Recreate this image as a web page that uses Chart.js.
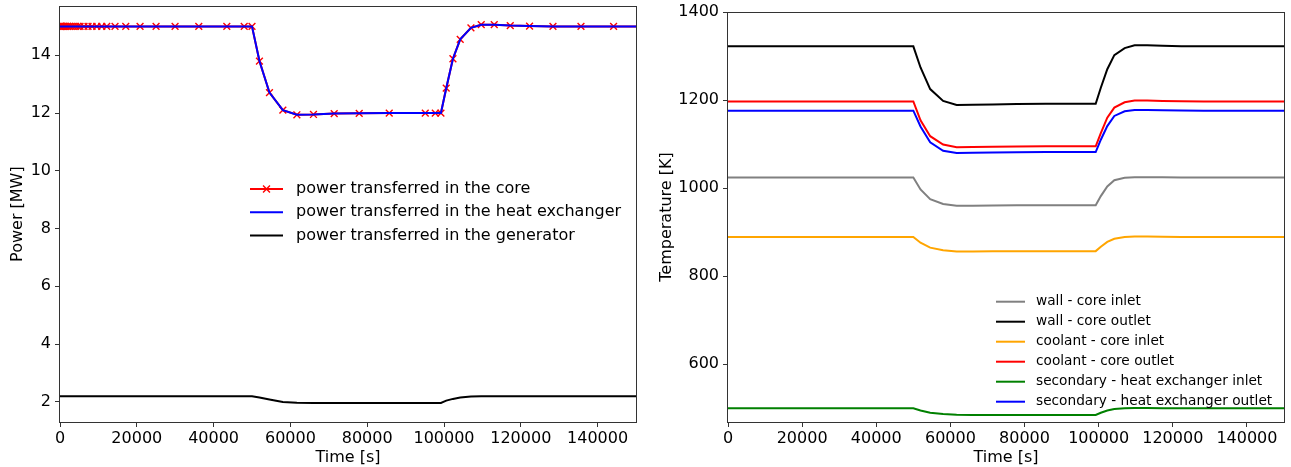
<!DOCTYPE html>
<html>
<head>
<meta charset="utf-8">
<script src="https://cdn.jsdelivr.net/npm/chart.js@4.4.0/dist/chart.umd.min.js"></script>
<style>
  body { margin: 0; background: #fff; }
  #wrap { position: relative; width: 1291px; height: 467px; }
  canvas { position: absolute; top: 0; }
</style>
</head>
<body>
<div id="wrap">
  <canvas id="powerChart" width="645" height="467" style="left:0px"></canvas>
  <canvas id="tempChart" width="646" height="467" style="left:645px"></canvas>
</div>
<script>
// time steps of the solver [s]
const time = [0, 60, 150, 280, 450, 650, 900, 1200, 1550, 1950, 2400, 2900, 3450, 4050, 4650,
  5212, 6254, 7297, 8339, 9564, 10867, 12170, 14333, 17124, 20848, 25018, 29969, 36142, 43440, 47970,
  50000, 51938, 54546, 58036, 61685, 66010, 71404, 77919, 85737, 95119, 97725, 99200,
  100580, 102325, 104224, 107013, 109696, 113083, 117252, 122283, 128376, 135672, 144168, 152000];

// power [MW]
const corePower = [15, 15, 15, 15, 15, 15, 15, 15, 15, 15, 15, 15, 15, 15, 15,
  15, 15, 15, 15, 15, 15, 15, 15, 15, 15, 15, 15, 15, 15, 15,
  15, 13.80, 12.71, 12.10, 11.94, 11.95, 11.98, 11.99, 12.0, 12.0, 12.0, 12.0,
  12.86, 13.88, 14.55, 14.95, 15.06, 15.06, 15.03, 15.01, 15.0, 15.0, 15.0, 15.0];
const hxPower = [15, 15, 15, 15, 15, 15, 15, 15, 15, 15, 15, 15, 15, 15, 15,
  15, 15, 15, 15, 15, 15, 15, 15, 15, 15, 15, 15, 15, 15, 15,
  15, 13.80, 12.71, 12.10, 11.94, 11.95, 11.98, 11.99, 12.0, 12.0, 12.0, 12.0,
  12.86, 13.88, 14.55, 14.95, 15.06, 15.06, 15.03, 15.01, 15.0, 15.0, 15.0, 15.0];
const genPower = [2.19, 2.19, 2.19, 2.19, 2.19, 2.19, 2.19, 2.19, 2.19, 2.19, 2.19, 2.19, 2.19, 2.19, 2.19,
  2.19, 2.19, 2.19, 2.19, 2.19, 2.19, 2.19, 2.19, 2.19, 2.19, 2.19, 2.19, 2.19, 2.19, 2.19,
  2.19, 2.15, 2.08, 1.99, 1.965, 1.96, 1.96, 1.96, 1.96, 1.96, 1.96, 1.96,
  2.04, 2.10, 2.15, 2.18, 2.19, 2.195, 2.195, 2.19, 2.19, 2.19, 2.19, 2.19];

// temperatures [K]
const wallIn = [1024, 1024, 1024, 1024, 1024, 1024, 1024, 1024, 1024, 1024, 1024, 1024, 1024, 1024, 1024,
  1024, 1024, 1024, 1024, 1024, 1024, 1024, 1024, 1024, 1024, 1024, 1024, 1024, 1024, 1024,
  1024, 997, 975, 964, 960, 960, 960.5, 961, 961, 961, 961, 961,
  982, 1004, 1018, 1023.5, 1025, 1025, 1024.5, 1024, 1024, 1024, 1024, 1024];
const wallOut = [1322, 1322, 1322, 1322, 1322, 1322, 1322, 1322, 1322, 1322, 1322, 1322, 1322, 1322, 1322,
  1322, 1322, 1322, 1322, 1322, 1322, 1322, 1322, 1322, 1322, 1322, 1322, 1322, 1322, 1322,
  1322, 1274, 1225, 1198, 1189, 1189.5, 1190, 1191, 1191.5, 1191.5, 1191.5, 1191.5,
  1228, 1270, 1302, 1318, 1324.5, 1324.5, 1323.5, 1322.5, 1322, 1322, 1322, 1322];
const coolIn = [889, 889, 889, 889, 889, 889, 889, 889, 889, 889, 889, 889, 889, 889, 889,
  889, 889, 889, 889, 889, 889, 889, 889, 889, 889, 889, 889, 889, 889, 889,
  889, 876, 865, 859, 856, 856, 856.5, 857, 857, 857, 857, 857,
  867, 878, 885, 889, 890, 890, 889.5, 889, 889, 889, 889, 889];
const coolOut = [1197, 1197, 1197, 1197, 1197, 1197, 1197, 1197, 1197, 1197, 1197, 1197, 1197, 1197, 1197,
  1197, 1197, 1197, 1197, 1197, 1197, 1197, 1197, 1197, 1197, 1197, 1197, 1197, 1197, 1197,
  1197, 1154, 1118, 1099, 1093, 1093.5, 1094, 1094.5, 1095, 1095, 1095, 1095,
  1125, 1160, 1183, 1195, 1199, 1199, 1198, 1197.5, 1197, 1197, 1197, 1197];
const secIn = [500, 500, 500, 500, 500, 500, 500, 500, 500, 500, 500, 500, 500, 500, 500,
  500, 500, 500, 500, 500, 500, 500, 500, 500, 500, 500, 500, 500, 500, 500,
  500, 495, 490, 487, 485.5, 485, 485, 485, 485, 485, 485, 485,
  490, 495, 498.5, 500, 501, 501, 500.5, 500, 500, 500, 500, 500];
const secOut = [1176, 1176, 1176, 1176, 1176, 1176, 1176, 1176, 1176, 1176, 1176, 1176, 1176, 1176, 1176,
  1176, 1176, 1176, 1176, 1176, 1176, 1176, 1176, 1176, 1176, 1176, 1176, 1176, 1176, 1176,
  1176, 1140, 1104, 1085, 1080, 1080.5, 1081, 1081.5, 1082, 1082, 1082, 1082,
  1110, 1141, 1164, 1174.5, 1177.5, 1177.5, 1177, 1176.5, 1176, 1176, 1176, 1176];

// ticks
const timeTicks = [0, 20000, 40000, 60000, 80000, 100000, 120000, 140000];
const powerTicks = [2, 4, 6, 8, 10, 12, 14];
const tempTicks = [600, 800, 1000, 1200, 1400];

const FONT = '"DejaVu Sans", sans-serif';

function pts(vals) {
  return time.map((t, i) => ({ x: t, y: vals[i] }));
}

// fixed axis box sizes so that the plot area sits where it should
function fixSize(size) {
  return function (scale) {
    if (scale.isHorizontal()) scale.height = size; else scale.width = size;
    scale.paddingLeft = 0; scale.paddingRight = 0;
    scale.paddingTop = 0; scale.paddingBottom = 0;
  };
}
function setTicks(arr) {
  return function (scale) { scale.ticks = arr.map(v => ({ value: v })); };
}

// box around the plot like matplotlib spines
const framePlugin = {
  id: 'frame',
  afterDatasetsDraw(chart) {
    const a = chart.chartArea;
    const ctx = chart.ctx;
    ctx.save();
    ctx.strokeStyle = '#333';
    ctx.lineWidth = 1;
    ctx.strokeRect(Math.round(a.left) - 0.5, Math.round(a.top) + 0.5,
      Math.round(a.right - a.left) + 1, Math.round(a.bottom - a.top));
    ctx.restore();
  }
};

// legend drawn inside the plot
const legendPlugin = {
  id: 'innerLegend',
  afterDraw(chart, args, o) {
    const ctx = chart.ctx;
    ctx.save();
    ctx.font = o.fontSize + 'px ' + FONT;
    ctx.textBaseline = 'middle';
    chart.data.datasets.forEach((ds, i) => {
      const y = o.y + i * o.rowHeight;
      ctx.strokeStyle = ds.borderColor;
      ctx.lineWidth = ds.borderWidth;
      ctx.beginPath();
      ctx.moveTo(o.x, y);
      ctx.lineTo(o.x + o.lineLen, y);
      ctx.stroke();
      if (ds.pointRadius > 0) {
        const cx = o.x + o.lineLen / 2;
        const r = ds.pointRadius * 0.72;
        ctx.strokeStyle = ds.pointBorderColor;
        ctx.lineWidth = ds.pointBorderWidth;
        ctx.beginPath();
        ctx.moveTo(cx - r, y - r); ctx.lineTo(cx + r, y + r);
        ctx.moveTo(cx - r, y + r); ctx.lineTo(cx + r, y - r);
        ctx.stroke();
      }
      ctx.fillStyle = '#000';
      ctx.fillText(ds.label, o.x + o.lineLen + o.gap, y);
    });
    ctx.restore();
  }
};

function xAxis() {
  return {
    type: 'linear', min: 0, max: 150000,
    afterBuildTicks: setTicks(timeTicks),
    afterFit: fixSize(45),
    grid: { drawOnChartArea: false, drawTicks: true, tickLength: 5, tickColor: '#333' },
    border: { display: false },
    ticks: { color: '#000', font: { family: FONT, size: 16 }, padding: 2, maxRotation: 0, callback: v => String(v) },
    title: { display: true, text: 'Time [s]', color: '#000', font: { family: FONT, size: 16 }, padding: { top: 0, bottom: 0 } }
  };
}

function yAxis(min, max, ticks, width, label, pad) {
  return {
    type: 'linear', min: min, max: max,
    afterBuildTicks: setTicks(ticks),
    afterFit: fixSize(width),
    grid: { drawOnChartArea: false, drawTicks: true, tickLength: 5, tickColor: '#333' },
    border: { display: false },
    ticks: { color: '#000', font: { family: FONT, size: 16 }, padding: 4, callback: v => String(v) },
    title: { display: true, text: label, color: '#000', font: { family: FONT, size: 16 }, padding: { top: pad, bottom: 0 } }
  };
}

function line(label, vals, color, extra) {
  return Object.assign({
    label: label, data: pts(vals), borderColor: color, backgroundColor: color,
    borderWidth: 2, pointRadius: 0, tension: 0, fill: false
  }, extra || {});
}

Chart.defaults.font.family = FONT;

new Chart(document.getElementById('powerChart'), {
  type: 'line',
  data: {
    datasets: [
      line('power transferred in the core', corePower, '#ff0000', {
        pointStyle: 'crossRot', pointRadius: 4.8, pointBorderColor: '#ff0000',
        pointBorderWidth: 1.4, order: 3
      }),
      line('power transferred in the heat exchanger', hxPower, '#0000ff', { order: 2 }),
      line('power transferred in the generator', genPower, '#000000', { order: 1 })
    ]
  },
  options: {
    responsive: false, animation: false, devicePixelRatio: 1,
    layout: { padding: { left: 0, right: 9, top: 5, bottom: 0 } },
    scales: {
      x: xAxis(),
      y: yAxis(1.30, 15.70, powerTicks, 60, 'Power [MW]', 8)
    },
    plugins: {
      legend: { display: false }, tooltip: { enabled: false },
      innerLegend: { x: 250, y: 189, rowHeight: 23.3, lineLen: 33, gap: 13, fontSize: 16 }
    }
  },
  plugins: [framePlugin, legendPlugin]
});

new Chart(document.getElementById('tempChart'), {
  type: 'line',
  data: {
    datasets: [
      line('wall - core inlet', wallIn, '#808080'),
      line('wall - core outlet', wallOut, '#000000'),
      line('coolant - core inlet', coolIn, '#ffa500'),
      line('coolant - core outlet', coolOut, '#ff0000'),
      line('secondary - heat exchanger inlet', secIn, '#008000'),
      line('secondary - heat exchanger outlet', secOut, '#0000ff')
    ]
  },
  options: {
    responsive: false, animation: false, devicePixelRatio: 1,
    layout: { padding: { left: 0, right: 7, top: 12, bottom: 0 } },
    scales: {
      x: xAxis(),
      y: yAxis(469, 1400, tempTicks, 83, 'Temperature [K]', 12)
    },
    plugins: {
      legend: { display: false }, tooltip: { enabled: false },
      innerLegend: { x: 351, y: 301.7, rowHeight: 20, lineLen: 29, gap: 11, fontSize: 13.7 }
    }
  },
  plugins: [framePlugin, legendPlugin]
});
</script>
</body>
</html>
